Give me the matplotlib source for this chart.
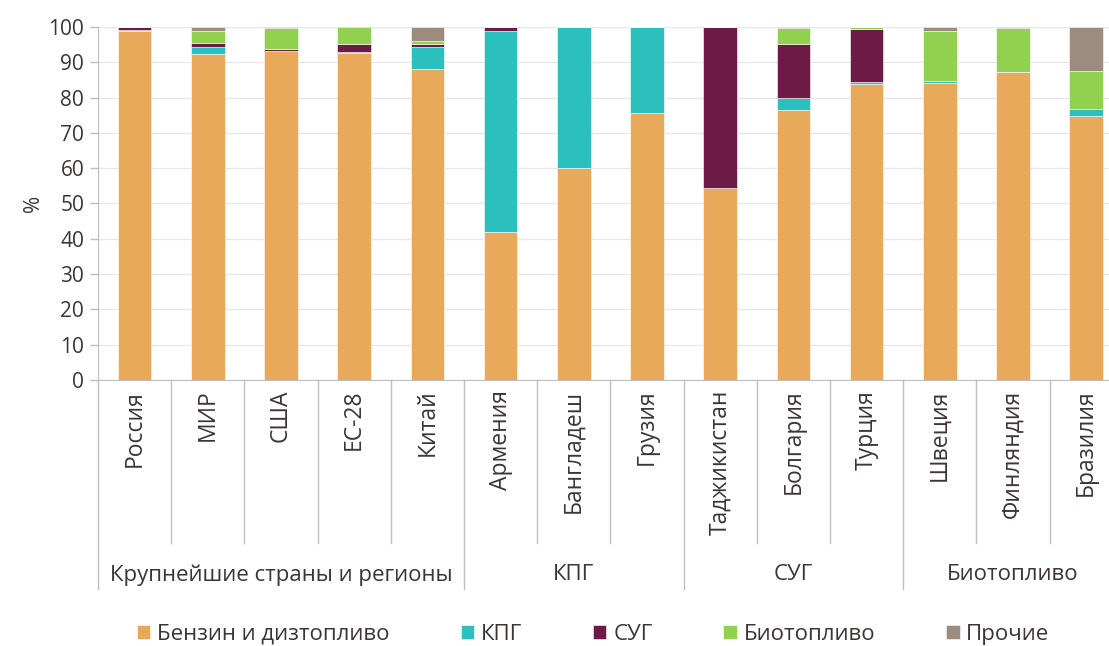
import matplotlib
matplotlib.use('Agg')
import matplotlib.pyplot as plt
import matplotlib.transforms as mtransforms
import numpy as np

plt.rcParams['font.family'] = ['Open Sans', 'DejaVu Sans']

countries = ['Россия', 'МИР', 'США', 'ЕС-28', 'Китай',
             'Армения', 'Бангладеш', 'Грузия',
             'Таджикистан', 'Болгария', 'Турция',
             'Швеция', 'Финляндия', 'Бразилия']
groups = ['Крупнейшие страны и регионы', 'КПГ', 'СУГ', 'Биотопливо']
group_sizes = [5, 3, 3, 3]

series_names = ['Бензин и дизтопливо', 'КПГ', 'СУГ', 'Биотопливо', 'Прочие']
petrol = [98.8, 92.3, 93.2, 92.6, 88.0, 41.9, 60.1, 75.5, 54.4, 76.6, 83.9, 84.1, 87.2, 74.8]
cng = [0.4, 2.1, 0.1, 0.4, 6.3, 57.0, 39.9, 24.5, 0.0, 3.3, 0.4, 0.6, 0.0, 1.9]
lpg = [0.7, 1.2, 0.5, 2.2, 0.8, 1.1, 0.0, 0.0, 45.6, 15.3, 15.2, 0.0, 0.0, 0.0]
bio = [0.0, 3.3, 5.9, 4.7, 0.8, 0.0, 0.0, 0.0, 0.0, 4.5, 0.4, 14.2, 12.5, 10.8]
other = [0.1, 1.1, 0.3, 0.3, 4.1, 0.0, 0.0, 0.0, 0.0, 0.3, 0.0, 1.1, 0.3, 12.5]
colors = ['#E8A95B', '#2BBFBE', '#6E1A46', '#92D050', '#9C8B7E']

text_color = '#3f3434'
line_color = '#BFBFBF'

fig = plt.figure(figsize=(11.09, 6.46), dpi=100)
ax = fig.add_axes([0.0884, 0.4118, 0.924, 0.5464])

x = np.arange(len(countries))
bottom = np.zeros(len(countries))
for name, vals, c in zip(series_names, [petrol, cng, lpg, bio, other], colors):
    ax.bar(x, vals, width=0.46, bottom=bottom, color=c, label=name,
           edgecolor='white', linewidth=0.4, zorder=3)
    bottom += np.array(vals)

ax.set_xlim(-0.5, len(countries) - 0.5)
ax.set_ylim(0, 100)
ax.set_yticks(range(0, 101, 10))
ax.tick_params(axis='y', labelsize=15, colors=line_color, labelcolor=text_color,
               length=6, width=1, pad=4)
ax.set_ylabel('%', fontsize=15, color=text_color, labelpad=3)
ax.grid(axis='y', color='#E8E8E8', linewidth=1, zorder=0)

ax.set_xticks(x)
ax.set_xticklabels(countries, rotation=90, fontsize=16.5, color=text_color, va='top')
ax.tick_params(axis='x', length=0, pad=7)

for s in ['top', 'right']:
    ax.spines[s].set_visible(False)
ax.spines['left'].set_color(line_color)
ax.spines['bottom'].set_color(line_color)

# category separators and group labels under the axis
trans = mtransforms.blended_transform_factory(ax.transData, ax.transAxes)
bounds = np.cumsum([0] + group_sizes)
for i in range(len(countries)):
    xs = i - 0.5
    low = -0.592 if i in bounds else -0.462
    ax.plot([xs, xs], [0, low], color=line_color, lw=1, transform=trans, clip_on=False)
for g, a, b in zip(groups, bounds[:-1], bounds[1:]):
    ax.text((a + b - 1) / 2, -0.552, g, transform=trans, ha='center', va='center',
            fontsize=16, color=text_color)

leg = fig.legend(loc='center', bbox_to_anchor=(0.535, 0.018), ncol=5, frameon=False,
                 fontsize=16, handlelength=0.6, handleheight=0.6, handletextpad=0.3,
                 columnspacing=3.2, labelcolor=text_color)

fig.savefig('out.png', dpi=100)
